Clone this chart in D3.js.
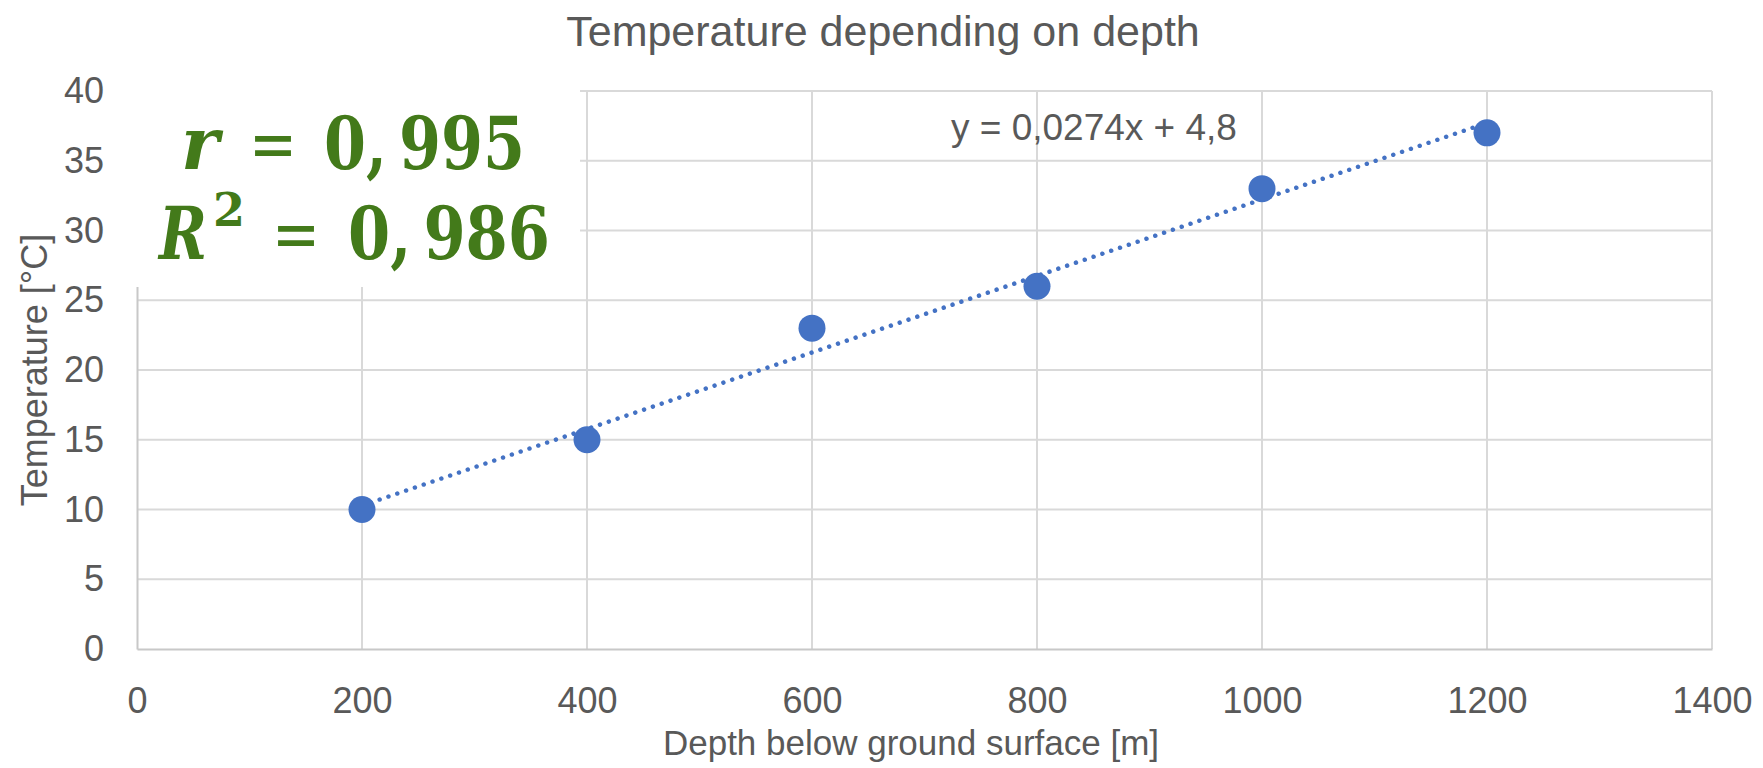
<!DOCTYPE html>
<html>
<head>
<meta charset="utf-8">
<script src="https://cdn.jsdelivr.net/npm/d3@7"></script>
<style>
  body { margin: 0; background: #fff; }
  text { font-family: "Liberation Sans", Arial, sans-serif; fill: #595959; }
</style>
</head>
<body>
<div id="chart"></div>
<script>
// data
const depths = [200, 400, 600, 800, 1000, 1200];
const temps = [10, 15, 23, 26, 33, 37];
const xTicks = [0, 200, 400, 600, 800, 1000, 1200, 1400];
const yTicks = [0, 5, 10, 15, 20, 25, 30, 35, 40];
const trendLabel = 'y = 0,0274x + 4,8';
const rLabel = '0,\u2009995';
const r2Label = '0,\u2009986';

const W = 1763;
const H = 768;
const margin = {top: 91, right: 51, bottom: 119, left: 137};
const iw = W - margin.left - margin.right;
const ih = H - margin.top - margin.bottom;

const svg = d3.select('#chart')
    .append('svg')
    .attr('width', W)
    .attr('height', H);

const x = d3.scaleLinear().domain([0, 1400]).range([0, iw]);
const y = d3.scaleLinear().domain([0, 40]).range([ih, 0]);

const g = svg.append('g')
    .attr('transform', 'translate(' + margin.left + ',' + margin.top + ')');

// gridlines
g.selectAll('line.vgrid')
    .data(xTicks.slice(1))
    .enter()
    .append('line')
    .attr('x1', (d) => x(d)).attr('x2', (d) => x(d))
    .attr('y1', 0).attr('y2', ih)
    .attr('stroke', '#d9d9d9')
    .attr('stroke-width', 2);

g.selectAll('line.hgrid')
    .data(yTicks.slice(1))
    .enter()
    .append('line')
    .attr('x1', 0).attr('x2', iw)
    .attr('y1', (d) => y(d)).attr('y2', (d) => y(d))
    .attr('stroke', '#d9d9d9')
    .attr('stroke-width', 2);

// axes
const xAxis = g.append('g')
    .attr('transform', 'translate(0,' + ih + ')')
    .call(d3.axisBottom(x).tickValues(xTicks).tickFormat(d3.format('d'))
        .tickSize(0).tickPadding(38));
const yAxis = g.append('g')
    .call(d3.axisLeft(y).tickValues(yTicks).tickFormat(d3.format('d'))
        .tickSize(0).tickPadding(33));

[xAxis, yAxis].forEach((a) => {
  a.select('.domain').attr('stroke', '#c8c8c8').attr('stroke-width', 2);
  a.selectAll('text')
      .style('font-family', '"Liberation Sans", Arial, sans-serif')
      .style('font-size', '36px')
      .attr('fill', '#595959');
});

// trendline (least squares over the points)
const mx = d3.mean(depths);
const my = d3.mean(temps);
const slope = d3.sum(depths, (d, i) => (d - mx) * (temps[i] - my)) /
    d3.sum(depths, (d) => (d - mx) ** 2);
const intercept = my - slope * mx;

g.append('path')
    .datum(d3.extent(depths))
    .attr('d', d3.line().x((d) => x(d)).y((d) => y(slope * d + intercept)))
    .attr('fill', 'none')
    .attr('stroke', '#4472c4')
    .attr('stroke-width', 4.5)
    .attr('stroke-linecap', 'round')
    .attr('stroke-dasharray', '0.01 9.3');

// points
g.selectAll('circle.pt')
    .data(depths)
    .enter()
    .append('circle')
    .attr('cx', (d) => x(d))
    .attr('cy', (d, i) => y(temps[i]))
    .attr('r', 13.5)
    .attr('fill', '#4472c4');

// trendline equation
g.append('text')
    .attr('x', x(720) + 4)
    .attr('y', y(37) + 7)
    .style('font-size', '37px')
    .text(trendLabel);

// white box with correlation text
svg.append('rect')
    .attr('x', 118).attr('y', 80)
    .attr('width', 462).attr('height', 207)
    .attr('fill', '#fff');

const green = '#437a1a';
const mathFont = '"DejaVu Serif", "Liberation Serif", serif';

function mathPart(px, py, str, opts) {
  const t = svg.append('text')
      .attr('x', px).attr('y', py)
      .attr('text-anchor', opts.anchor || 'start')
      .style('font-family', mathFont)
      .style('font-weight', opts.weight || 'bold')
      .style('font-style', opts.italic ? 'italic' : 'normal')
      .style('font-size', (opts.size || 70) + 'px')
      .style('fill', green)
      .text(str);
  if (opts.len) {
    t.attr('textLength', opts.len).attr('lengthAdjust', 'spacingAndGlyphs');
  }
  return t;
}

// line 1: r = 0,995
mathPart(181, 169, 'r', {italic: true, size: 72});
mathPart(249, 169, '=', {weight: 'normal', len: 48, size: 72});
mathPart(525, 169, rLabel, {anchor: 'end', len: 201, size: 72});

// line 2: R² = 0,986
mathPart(159, 259, 'R', {italic: true, size: 72, len: 48});
mathPart(213, 226, '2', {size: 46});
mathPart(272, 259, '=', {weight: 'normal', len: 48, size: 72});
mathPart(550, 259, r2Label, {anchor: 'end', len: 202, size: 72});

// titles
svg.append('text')
    .attr('x', 883).attr('y', 46)
    .attr('text-anchor', 'middle')
    .style('font-size', '43px')
    .text('Temperature depending on depth');

svg.append('text')
    .attr('x', 911).attr('y', 755)
    .attr('text-anchor', 'middle')
    .style('font-size', '35px')
    .text('Depth below ground surface [m]');

svg.append('text')
    .attr('transform', 'translate(47,' + (margin.top + ih / 2) + ') rotate(-90)')
    .attr('text-anchor', 'middle')
    .style('font-size', '36px')
    .text('Temperature [°C]');
</script>
</body>
</html>
